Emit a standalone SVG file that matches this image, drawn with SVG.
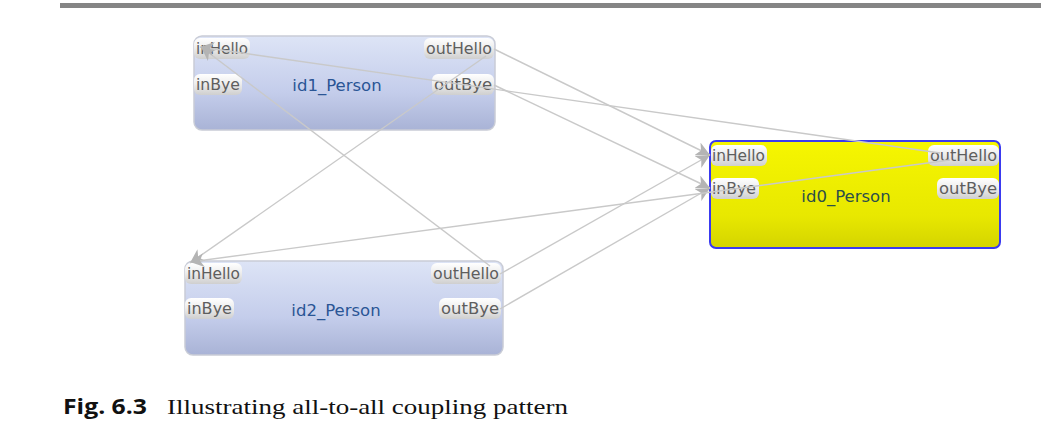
<svg xmlns="http://www.w3.org/2000/svg" width="1041" height="424" viewBox="0 0 1041 424">
<defs>
  <linearGradient id="gBlue" x1="0" y1="0" x2="0" y2="1">
    <stop offset="0" stop-color="#dde4f6"/>
    <stop offset="0.6" stop-color="#c4cdeb"/>
    <stop offset="1" stop-color="#a9b3d6"/>
  </linearGradient>
  <linearGradient id="gYellow" x1="0" y1="0" x2="0" y2="1">
    <stop offset="0" stop-color="#f6f600"/>
    <stop offset="0.7" stop-color="#e8e800"/>
    <stop offset="1" stop-color="#d4d400"/>
  </linearGradient>
  <linearGradient id="gPort" x1="0" y1="0" x2="0" y2="1">
    <stop offset="0" stop-color="#ffffff"/>
    <stop offset="0.45" stop-color="#eeeeee"/>
    <stop offset="1" stop-color="#cfcfcf"/>
  </linearGradient>
  <marker id="arr" markerUnits="userSpaceOnUse" markerWidth="16" markerHeight="14" refX="14" refY="7" orient="auto">
    <path d="M0,0 L14,7 L0,14 L4,7 z" fill="#b4b4b4"/>
  </marker>
  <style>
    .node-blue { fill: url(#gBlue); stroke: #c9ccd6; stroke-width: 1.5; }
    .node-yellow { fill: url(#gYellow); stroke: #3a3af0; stroke-width: 2; }
    .port { fill: url(#gPort); stroke: none; }
    .ptxt { font-family: "DejaVu Sans", sans-serif; font-size: 15px; fill: #5e5e5e; }
    .ntxt { font-family: "DejaVu Sans", sans-serif; font-size: 16.5px; text-anchor: middle; }
    .conn { fill: none; stroke: #c9c9c9; stroke-width: 1.4; }
    .cap-b { font-family: "Open Sans", "Liberation Sans", sans-serif; font-weight: bold; font-size: 21px; fill: #111; }
    .cap { font-family: "Liberation Serif", serif; font-size: 22px; fill: #111; }
  </style>
</defs>
<rect width="1041" height="424" fill="#ffffff"/>
<rect x="60" y="3" width="981" height="5" fill="#858585"/>

<g id="id1_Person">
  <rect class="node-blue" x="194" y="36" width="301" height="94" rx="8"/>
  <rect class="port" x="194" y="38" width="56" height="21" rx="6"/>
  <text class="ptxt" x="196" y="54" textLength="52" lengthAdjust="spacingAndGlyphs">inHello</text>
  <rect class="port" x="194" y="74" width="48" height="21" rx="6"/>
  <text class="ptxt" x="196" y="90" textLength="44" lengthAdjust="spacingAndGlyphs">inBye</text>
  <rect class="port" x="424" y="38" width="70" height="21" rx="6"/>
  <text class="ptxt" x="426" y="54" textLength="66" lengthAdjust="spacingAndGlyphs">outHello</text>
  <rect class="port" x="432" y="74" width="62" height="21" rx="6"/>
  <text class="ptxt" x="434" y="90" textLength="58" lengthAdjust="spacingAndGlyphs">outBye</text>
  <text class="ntxt" x="337" y="91" fill="#2a5595">id1_Person</text>
</g>

<g id="id2_Person">
  <rect class="node-blue" x="185" y="261" width="318" height="94" rx="8"/>
  <rect class="port" x="185" y="263" width="57" height="21" rx="6"/>
  <text class="ptxt" x="187" y="279" textLength="53" lengthAdjust="spacingAndGlyphs">inHello</text>
  <rect class="port" x="185" y="298" width="49" height="21" rx="6"/>
  <text class="ptxt" x="187" y="314" textLength="45" lengthAdjust="spacingAndGlyphs">inBye</text>
  <rect class="port" x="431" y="263" width="70" height="21" rx="6"/>
  <text class="ptxt" x="433" y="279" textLength="66" lengthAdjust="spacingAndGlyphs">outHello</text>
  <rect class="port" x="439" y="298" width="62" height="21" rx="6"/>
  <text class="ptxt" x="441" y="314" textLength="58" lengthAdjust="spacingAndGlyphs">outBye</text>
  <text class="ntxt" x="336" y="316" fill="#2a5595">id2_Person</text>
</g>

<g id="id0_Person">
  <rect class="node-yellow" x="710" y="141" width="290" height="107" rx="6"/>
  <rect class="port" x="711" y="145" width="56" height="21" rx="6"/>
  <text class="ptxt" x="712" y="161" textLength="53" lengthAdjust="spacingAndGlyphs">inHello</text>
  <rect class="port" x="711" y="178" width="48" height="21" rx="6"/>
  <text class="ptxt" x="712" y="194" textLength="44" lengthAdjust="spacingAndGlyphs">inBye</text>
  <rect class="port" x="928" y="145" width="71" height="21" rx="6"/>
  <text class="ptxt" x="930" y="161" textLength="67" lengthAdjust="spacingAndGlyphs">outHello</text>
  <rect class="port" x="937" y="178" width="62" height="21" rx="6"/>
  <text class="ptxt" x="939" y="194" textLength="58" lengthAdjust="spacingAndGlyphs">outBye</text>
  <text class="ntxt" x="846" y="202" fill="#2c4f4a">id0_Person</text>
</g>

<g id="connectors">
  <line class="conn" x1="494" y1="49" x2="710" y2="155" marker-end="url(#arr)"/>
  <line class="conn" x1="494" y1="85" x2="710" y2="188" marker-end="url(#arr)"/>
  <line class="conn" x1="486" y1="56" x2="190" y2="263" marker-end="url(#arr)"/>
  <line class="conn" x1="500" y1="274" x2="710" y2="155" marker-end="url(#arr)"/>
  <line class="conn" x1="500" y1="309" x2="710" y2="188" marker-end="url(#arr)"/>
  <line class="conn" x1="490" y1="266" x2="201" y2="47" marker-end="url(#arr)"/>
  <line class="conn" x1="940" y1="153" x2="200" y2="47" marker-end="url(#arr)"/>
  <line class="conn" x1="950" y1="160" x2="190" y2="262" marker-end="url(#arr)"/>
</g>

<text class="cap-b" x="63" y="414" textLength="84" lengthAdjust="spacingAndGlyphs">Fig. 6.3</text>
<text class="cap" x="167" y="414" textLength="401" lengthAdjust="spacingAndGlyphs">Illustrating all-to-all coupling pattern</text>
</svg>
